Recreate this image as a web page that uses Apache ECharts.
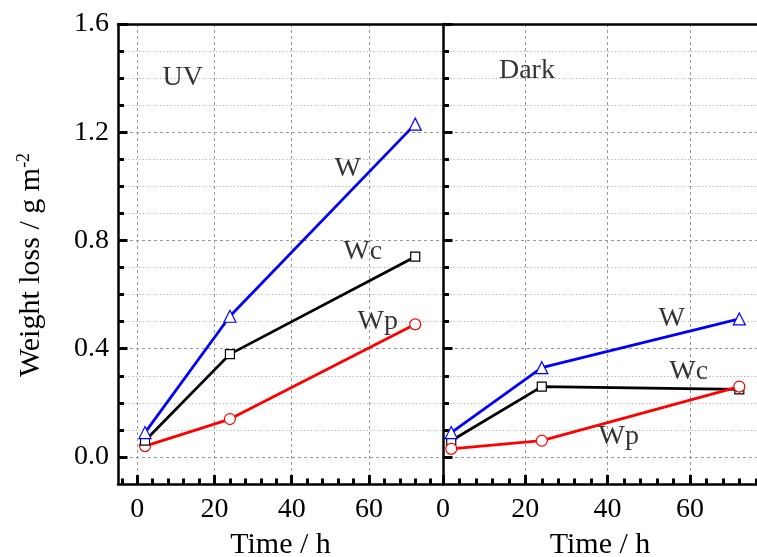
<!DOCTYPE html>
<html>
<head>
<meta charset="utf-8">
<script src="https://cdn.jsdelivr.net/npm/echarts@6/dist/echarts.min.js"></script>
<style>
  html, body { margin: 0; padding: 0; background: #fff; }
  #chart { width: 757px; height: 557px; }
</style>
</head>
<body>
<div id="chart"></div>
<script>
// Weight loss vs time, UV (left) and Dark (right) panels
const timeH = [2, 24, 72];
const uvW = [0.09, 0.52, 1.23];
const uvWc = [0.06, 0.38, 0.74];
const uvWp = [0.04, 0.14, 0.49];
const darkW = [0.09, 0.33, 0.51];
const darkWc = [0.06, 0.26, 0.25];
const darkWp = [0.03, 0.06, 0.26];

const xMajor = [0, 20, 40, 60];
const xMinor = [-4, 4, 8, 12, 16, 24, 28, 32, 36, 44, 48, 52, 56, 64, 68, 72, 76];
const yMajor = [0, 0.4, 0.8, 1.2, 1.6];
const yMinor = [0.1, 0.2, 0.3, 0.5, 0.6, 0.7, 0.9, 1.0, 1.1, 1.3, 1.4, 1.5];

// [x, y, text] in data units
const uvNotes = [[11.8, 1.40, "UV"], [54.5, 1.067, "W"], [58.4, 0.757, "Wc"], [62.3, 0.50, "Wp"]];
const darkNotes = [[20.4, 1.426, "Dark"], [55.6, 0.512, "W"], [59.7, 0.315, "Wc"], [42.7, 0.075, "Wp"]];

const FONT = "'Liberation Serif', 'Times New Roman', serif";
const FS = 28;
const TITLE_FS = 30;
const xRange = [[-5, 79.2], [0, 76.3]];
const X_PER_GRID = 4; // main, major ticks, minor ticks, top border
const Y_PER_GRID = 3; // main, major ticks, minor ticks

const black = (w) => ({ color: "#000", width: w });
const off = { show: false };

// ticks-only axis sitting on the grid edge
function tickAxis(base, values, len, split) {
  return Object.assign({}, base, {
    axisLine: { show: false, onZero: false },
    axisTick: { show: true, inside: true, length: len, lineStyle: black(3), customValues: values },
    axisLabel: off,
    splitLine: split || off,
  });
}

function xAxes(g) {
  const [min, max] = xRange[g];
  const base = { gridIndex: g, type: "value", position: "bottom", min, max };
  return [
    Object.assign({}, base, {
      name: "Time / h", nameLocation: "middle", nameGap: 46,
      nameTextStyle: { fontFamily: FONT, fontSize: TITLE_FS, color: "#000" },
      axisLine: { show: true, onZero: false, lineStyle: black(2.5) },
      axisTick: off,
      axisLabel: { show: true, margin: 12, fontFamily: FONT, fontSize: FS, color: "#000", customValues: xMajor },
      splitLine: off,
    }),
    tickAxis(base, xMajor, 9, { show: true, lineStyle: { color: "#999", width: 1, type: [3, 3] } }),
    tickAxis(base, xMinor, 5.5),
    Object.assign({}, base, {
      position: "top",
      axisLine: { show: true, onZero: false, lineStyle: black(2.5) },
      axisTick: off, axisLabel: off, splitLine: off,
    }),
  ];
}

function yAxes(g) {
  const base = { gridIndex: g, type: "value", position: "left", min: -0.1, max: 1.6 };
  return [
    Object.assign({}, base, {
      name: g === 0 ? "Weight loss / g m{sup|-2}" : "", nameLocation: "middle", nameGap: 70,
      nameTextStyle: {
        fontFamily: FONT, fontSize: TITLE_FS, color: "#000", padding: [0, 22, 0, 0],
        rich: { sup: { fontFamily: FONT, fontSize: 18, color: "#000", verticalAlign: "top", padding: [0, 0, 15, 0] } },
      },
      axisLine: { show: true, onZero: false, lineStyle: black(2.5) },
      axisTick: off,
      axisLabel: {
        show: g === 0, margin: 9, fontFamily: FONT, fontSize: FS, color: "#000",
        customValues: yMajor, formatter: (v) => v.toFixed(1),
      },
      splitLine: off,
    }),
    tickAxis(base, yMajor, 9.5, { show: true, lineStyle: { color: "#999", width: 1, type: [3, 3] } }),
    tickAxis(base, yMinor, 6, { show: true, lineStyle: { color: "#bbb", width: 1, type: [1.5, 2] } }),
  ];
}

function lineSeries(g, values, color, symbol, size) {
  return {
    type: "line", xAxisIndex: g * X_PER_GRID, yAxisIndex: g * Y_PER_GRID,
    data: timeH.map((t, i) => [t, values[i]]),
    symbol, symbolSize: size, showAllSymbol: true,
    lineStyle: { color, width: 2.8 },
    itemStyle: { color: "#fff", borderColor: color, borderWidth: 1.2 },
    z: 3,
  };
}

function noteSeries(g, notes) {
  return {
    type: "scatter", xAxisIndex: g * X_PER_GRID, yAxisIndex: g * Y_PER_GRID,
    data: notes.map((n) => ({ value: [n[0], n[1]], name: n[2] })),
    symbolSize: 0, itemStyle: { color: "transparent" }, silent: true,
    label: {
      show: true, position: "inside", formatter: (p) => p.name,
      fontFamily: FONT, fontSize: FS, color: "#000",
    },
    z: 4,
  };
}

const chart = echarts.init(document.getElementById("chart"), null, { renderer: "canvas" });
chart.setOption({
  animation: false,
  backgroundColor: "#fff",
  grid: [
    { left: 118, top: 24, width: 325, height: 460, outerBoundsMode: "none" },
    { left: 443, top: 24, width: 314, height: 460, outerBoundsMode: "none" },
  ],
  xAxis: [...xAxes(0), ...xAxes(1)],
  yAxis: [...yAxes(0), ...yAxes(1)],
  series: [
    lineSeries(0, uvWp, "#ff0000", "circle", 11),
    lineSeries(0, uvWc, "#000000", "rect", 9),
    lineSeries(0, uvW, "#0000ff", "triangle", 12),
    lineSeries(1, darkWc, "#000000", "rect", 9),
    lineSeries(1, darkWp, "#ff0000", "circle", 11),
    lineSeries(1, darkW, "#0000ff", "triangle", 12),
    noteSeries(0, uvNotes),
    noteSeries(1, darkNotes),
  ],
});
</script>
</body>
</html>
